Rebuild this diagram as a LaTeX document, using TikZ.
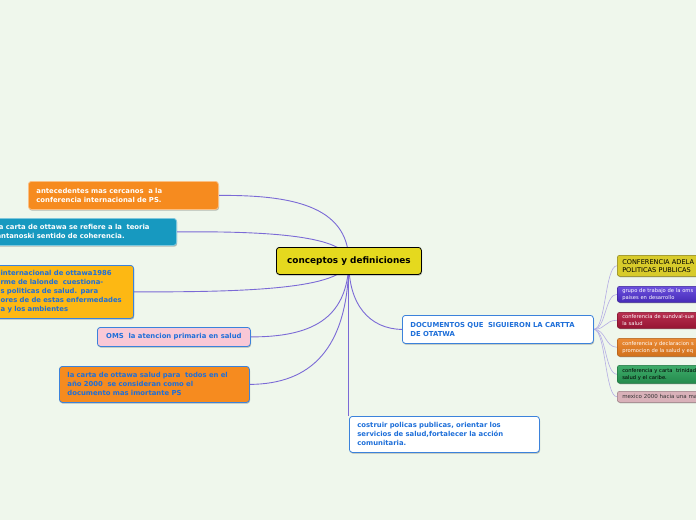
\documentclass[tikz,border=0pt]{standalone}
\usepackage{fontspec}
\setmainfont{DejaVu Sans}
\usetikzlibrary{shadows}
\definecolor{bgc}{HTML}{EFF7EC}
\definecolor{linkc}{HTML}{7B6AD6}
\definecolor{sublinkc}{HTML}{B4ACE4}
\definecolor{centralc}{HTML}{E5D91E}
\definecolor{orangec}{HTML}{F68B1F}
\definecolor{tealc}{HTML}{1799C0}
\definecolor{ambarc}{HTML}{FDB813}
\definecolor{pinkc}{HTML}{F9C8D6}
\definecolor{bluebd}{HTML}{3B82DB}
\definecolor{bluetx}{HTML}{1E6FD9}
\definecolor{cA}{HTML}{D8CB2B}
\definecolor{cAbd}{HTML}{877E14}
\definecolor{cB}{HTML}{5232D8}
\definecolor{cC}{HTML}{B1183C}
\definecolor{cD}{HTML}{E97E1F}
\definecolor{cE}{HTML}{2AA35A}
\definecolor{cF}{HTML}{D9B1B9}
\definecolor{cFbd}{HTML}{9A7A82}
\pgfdeclarelayer{bgzero}
\pgfdeclarelayer{links}
\pgfsetlayers{bgzero,links,main}
\begin{document}
\begin{tikzpicture}[x=1pt,y=-1pt,
  link/.style={draw=linkc, line width=0.9pt},
  sublink/.style={draw=sublinkc, line width=0.6pt},
  card/.style={rounded corners=3pt, line width=0.8pt, inner xsep=8pt, inner ysep=0pt, align=left,
    drop shadow={shadow xshift=0.6pt, shadow yshift=-1.3pt, opacity=0.25, fill=black}},
  bt/.style={font=\fontsize{6.85}{9}\selectfont\bfseries},
  subcard/.style={rounded corners=2.5pt, line width=0.5pt, inner xsep=5pt, inner ysep=0pt, align=left,
    anchor=north west, minimum width=100pt, text width=90pt,
    drop shadow={shadow xshift=0.5pt, shadow yshift=-1pt, opacity=0.2, fill=black}},
  st/.style={font=\fontsize{5.2}{7.2}\selectfont},
]
\useasboundingbox (0,0) rectangle (696,520);
\begin{pgfonlayer}{bgzero}
\fill[bgc] (0,0) rectangle (696,520);
\end{pgfonlayer}
\clip (0,0) rectangle (696,520);

% central
\node[card, draw=black, fill=centralc, anchor=north west, minimum width=145pt, minimum height=27pt,
  font=\fontsize{8.9}{10}\selectfont\bfseries, align=center] (central) at (276,247) {conceptos y definiciones};

% left nodes
\node[card, bt, draw=orangec!55!white, fill=orangec, text=white, anchor=north west,
  text width=174pt, minimum height=28pt] (o1) at (28,181)
  {antecedentes mas cercanos~ a la\\conferencia internacional de PS.};
\node[card, bt, draw=tealc!55!white, fill=tealc, text=white, anchor=north east,
  text width=172pt, minimum height=27pt] (teal) at (177,218)
  {la carta de ottawa se refiere a la~ teoria\\antanoski sentido de coherencia.};
\node[card, bt, draw=bluebd, fill=ambarc, text=bluetx, anchor=north east,
  text width=125pt, minimum height=53pt] (amb) at (134,265)
  {internacional de ottawa1986\\rme de lalonde~ cuestiona-\\s politicas de salud. para\\ores de de estas enfermedades\\a y los ambientes};
\node[card, bt, draw=bluebd, fill=pinkc, text=bluetx, anchor=north west, align=center,
  minimum width=153pt, minimum height=19pt] (pink) at (97,327)
  {OMS~ la atencion primaria en salud};
\node[card, bt, draw=bluebd, fill=orangec, text=bluetx, anchor=north west,
  text width=174pt, minimum height=36pt] (o2) at (59,366)
  {la carta de ottawa salud para~ todos en el\\año 2000~ se consideran como el\\documento mas imortante PS};

% right nodes
\node[card, bt, draw=bluebd, fill=white, text=bluetx, anchor=north west,
  text width=175pt, minimum height=28pt] (doc) at (402,315)
  {DOCUMENTOS QUE~ SIGUIERON LA CARTTA\\DE OTATWA};
\node[card, bt, draw=bluebd, fill=white, text=bluetx, anchor=north west,
  text width=174pt, minimum height=36pt] (bot) at (349,416)
  {costruir policas publicas, orientar los\\servicios de salud,fortalecer la acción\\comunitaria.};

% sub nodes
\node[subcard, draw=cAbd, fill=cA, text=black, minimum height=21pt,
  font=\fontsize{6.6}{8.2}\selectfont] (s1) at (617,255) {CONFERENCIA ADELA\\POLITICAS PUBLICAS};
\node[subcard, st, draw=cB!70!black, top color=cB!85!white, bottom color=cB!85!black, text=white,
  minimum height=16pt] (s2) at (617,286) {grupo de trabajo de la oms\\paises en desarrollo};
\node[subcard, st, draw=cC!70!black, top color=cC!90!white, bottom color=cC!85!black, text=white,
  minimum height=16pt] (s3) at (617,312) {conferencia de sundval-sue\\la salud};
\node[subcard, st, draw=cD!75!black, top color=cD!90!white, bottom color=cD!90!black, text=white,
  minimum height=18pt] (s4) at (617,338) {conferencia y declaracion s\\promocion de la salud y eq};
\node[subcard, st, draw=cE!70!black, top color=cE!90!white, bottom color=cE!85!black, text=black,
  minimum height=18pt] (s5) at (617,365) {conferencia y carta~ trinidad\\salud y el caribe.};
\node[subcard, draw=cFbd, fill=cF, text=black!80, minimum height=11pt,
  font=\fontsize{5.5}{7}\selectfont] (s6) at (617,391) {mexico 2000 hacia una ma};

% connectors
\begin{pgfonlayer}{links}
\draw[link] (central.center) .. controls (348,205) and (290,195) .. (o1.east);
\draw[link] (central.center) .. controls (346,236) and (270,231) .. (teal.east);
\draw[link] (central.center) .. controls (346,290) and (240,292) .. (amb.east);
\draw[link] (central.center) .. controls (348,320) and (310,337) .. (pink.east);
\draw[link] (central.center) .. controls (348,350) and (310,384) .. (o2.east);
\draw[link] (central.center) .. controls (348,305) and (370,329) .. (doc.west);
\draw[link] (central.center) -- (central.center |- bot.north);
\foreach \s in {s1,s2,s3,s4,s5,s6}{
  \draw[sublink] (doc.east) .. controls +(12,0) and ([xshift=-12pt]\s.west) .. (\s.west);
}
\end{pgfonlayer}
\end{tikzpicture}
\end{document}
